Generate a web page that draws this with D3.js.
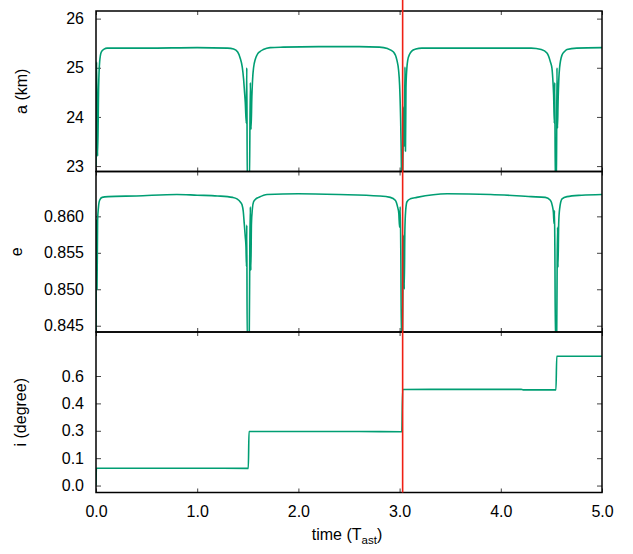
<!DOCTYPE html>
<html>
<head>
<meta charset="utf-8">
<script src="https://cdn.jsdelivr.net/npm/d3@7"></script>
<style>
  body { margin: 0; background: #fff; }
  svg { display: block; font-family: "Liberation Sans", Arial, sans-serif; }
</style>
</head>
<body>
<script>
// semi-major axis a (km) vs time
var aSeries = [
  [0.000,23.0],[0.006,25.12],[0.016,23.2],[0.026,24.6],[0.036,25.12],[0.052,25.32],[0.08,25.38],[0.11,25.40],[0.5,25.40],[1.0,25.41],[1.30,25.40],
  [1.36,25.38],[1.40,25.32],[1.426,25.19],[1.445,25.02],[1.458,24.78],[1.468,24.5],[1.475,24.3],[1.485,23.87],[1.490,25.00],[1.495,22.6],[1.516,22.6],[1.525,24.70],[1.532,23.75],[1.540,24.4],[1.550,24.85],[1.557,25.00],[1.575,25.18],[1.591,25.26],[1.62,25.33],[1.653,25.37],[1.72,25.41],[1.85,25.42],[2.2,25.43],[2.6,25.43],[2.80,25.42],
  [2.88,25.39],[2.94,25.32],[2.974,25.15],[2.99,24.95],[3.000,24.65],[3.010,23.97],[3.016,23.3],[3.020,22.6],[3.028,22.6],[3.034,23.3],[3.040,24.2],[3.046,23.4],[3.053,25.02],[3.058,23.3],[3.063,24.6],[3.072,25.0],[3.08,25.15],[3.10,25.28],[3.12,25.34],[3.16,25.38],[3.22,25.40],[3.6,25.40],[4.0,25.40],[4.30,25.40],
  [4.40,25.37],[4.456,25.30],[4.49,25.12],[4.506,24.98],[4.516,24.7],[4.522,24.45],[4.529,23.87],[4.533,24.70],[4.539,22.6],[4.550,22.6],[4.555,25.00],[4.560,23.77],[4.566,24.3],[4.574,24.8],[4.581,25.0],[4.605,25.26],[4.63,25.33],[4.654,25.37],[4.75,25.40],[5.0,25.41]
];

// eccentricity e vs time
var eSeries = [
  [0.000,0.8440],[0.004,0.8596],[0.010,0.8500],[0.016,0.8595],[0.024,0.8612],[0.036,0.8622],[0.06,0.8626],[0.12,0.8627],[0.4,0.8628],[0.8,0.8630],[1.0,0.8629],[1.2,0.8628],[1.35,0.8626],
  [1.393,0.8624],[1.43,0.8619],[1.443,0.8616],[1.455,0.8607],[1.465,0.8590],[1.475,0.8572],[1.482,0.8558],[1.487,0.8531],[1.490,0.8588],[1.494,0.8430],[1.514,0.8430],[1.520,0.8560],[1.525,0.8613],[1.530,0.8526],[1.536,0.8590],[1.545,0.8610],[1.557,0.8620],[1.58,0.8624],[1.607,0.8626],[1.69,0.8630],[2.0,0.8631],[2.4,0.8630],[2.8,0.8628],
  [2.908,0.8626],[2.957,0.8622],[2.98,0.8613],[2.992,0.8604],[3.000,0.8585],[3.006,0.8613],[3.012,0.8550],[3.018,0.8430],[3.028,0.8430],[3.034,0.8520],[3.040,0.8574],[3.046,0.8500],[3.052,0.8580],[3.060,0.8608],[3.073,0.8620],[3.106,0.8624],[3.17,0.8626],[3.47,0.8631],[3.9,0.8630],[4.3,0.8627],
  [4.44,0.8626],[4.49,0.8622],[4.51,0.8614],[4.520,0.8605],[4.526,0.8590],[4.530,0.8608],[4.534,0.8560],[4.540,0.8430],[4.552,0.8430],[4.557,0.8540],[4.561,0.8585],[4.565,0.8530],[4.572,0.8590],[4.581,0.8610],[4.605,0.8624],[4.654,0.8627],[4.8,0.8629],[5.0,0.8630]
];

// inclination i (degree) vs time
var iSeries = [
  [0,0.0],[0.004,0.095],[0.5,0.095],[1.0,0.095],[1.505,0.094],[1.512,0.296],[2.0,0.296],[2.6,0.296],[3.022,0.295],[3.030,0.526],[3.5,0.527],[4.2,0.527],[4.22,0.524],[4.545,0.524],[4.553,0.708],[5.0,0.708]
];

var markTime = 3.03;

var xTicks = [0, 1, 2, 3, 4, 5];
var xTickLabels = ["0.0", "1.0", "2.0", "3.0", "4.0", "5.0"];
var aTicks = [23, 24, 25, 26];
var aTickLabels = ["23", "24", "25", "26"];
var eTicks = [0.845, 0.850, 0.855, 0.860];
var eTickLabels = ["0.845", "0.850", "0.855", "0.860"];
var iTicks = [0, 0.15, 0.3, 0.45, 0.6];
var iTickLabels = ["0.0", "0.1", "0.3", "0.4", "0.6"];

var width = 633,
    height = 554,
    left = 96,
    right = 602;

var green = "#009e73",
    red = "#ef1f14";

var svg = d3.select("body").append("svg")
    .attr("width", width)
    .attr("height", height);

var x = d3.scaleLinear().domain([0, 5]).range([left, right]);

var panels = [
  {data: aSeries, top: 11, bottom: 171.5, domain: [22.89, 26.155], ticks: aTicks, labels: aTickLabels, title: "a (km)", tx: 27},
  {data: eSeries, top: 171.5, bottom: 332, domain: [0.84414, 0.86615], ticks: eTicks, labels: eTickLabels, title: "e", tx: 22},
  {data: iSeries, top: 332, bottom: 492.5, domain: [-0.038, 0.841], ticks: iTicks, labels: iTickLabels, title: "i (degree)", tx: 26}
];

function styleAxis(g) {
  g.attr("font-family", null).attr("font-size", null);
  g.select(".domain").remove();
  g.selectAll(".tick line").attr("stroke", "#444").attr("stroke-width", 1);
  g.selectAll(".tick text").attr("fill", "#000").style("font-size", "16px");
}

panels.forEach(function(p, k) {
  var y = d3.scaleLinear().domain(p.domain).range([p.bottom, p.top]);

  svg.append("clipPath").attr("id", "clip" + k)
    .append("rect")
      .attr("x", left).attr("y", p.top)
      .attr("width", right - left).attr("height", p.bottom - p.top);

  // ticks on all four sides, pointing inward
  svg.append("g")
      .attr("transform", "translate(" + left + ",0)")
      .call(d3.axisLeft(y).tickValues(p.ticks).tickSize(-5).tickPadding(12)
        .tickFormat(function(d, i) { return p.labels[i]; }))
      .call(styleAxis);
  svg.append("g")
      .attr("transform", "translate(" + right + ",0)")
      .call(d3.axisRight(y).tickValues(p.ticks).tickSize(-5).tickFormat(""))
      .call(styleAxis);
  svg.append("g")
      .attr("transform", "translate(0," + p.top + ")")
      .call(d3.axisTop(x).tickValues(xTicks).tickSize(-4).tickFormat(""))
      .call(styleAxis);
  svg.append("g")
      .attr("transform", "translate(0," + p.bottom + ")")
      .call(d3.axisBottom(x).tickValues(xTicks).tickSize(-4).tickPadding(13)
        .tickFormat(function(d, i) { return k == 2 ? xTickLabels[i] : ""; }))
      .call(styleAxis);

  var line = d3.line()
      .x(function(d) { return x(d[0]); })
      .y(function(d) { return y(d[1]); })
      .curve(d3.curveMonotoneX);

  svg.append("path")
      .datum(p.data)
      .attr("clip-path", "url(#clip" + k + ")")
      .attr("fill", "none")
      .attr("stroke", green)
      .attr("stroke-width", 1.6)
      .attr("stroke-linejoin", "round")
      .attr("d", line);

  svg.append("text")
      .attr("transform", "translate(" + p.tx + "," + (p.top + p.bottom) / 2 + ") rotate(-90)")
      .attr("text-anchor", "middle")
      .style("font-size", "16px")
      .text(p.title);
});

// frames
panels.forEach(function(p) {
  svg.append("rect")
      .attr("x", left).attr("y", p.top)
      .attr("width", right - left).attr("height", p.bottom - p.top)
      .attr("fill", "none")
      .attr("stroke", "#000")
      .attr("stroke-width", 1.5);
});

// marker line
svg.append("line")
    .attr("x1", x(markTime)).attr("x2", x(markTime))
    .attr("y1", 0).attr("y2", panels[2].bottom)
    .attr("stroke", red)
    .attr("stroke-width", 1.6);

var xl = svg.append("text")
    .attr("x", 347)
    .attr("y", 540)
    .attr("text-anchor", "middle")
    .style("font-size", "16px");
xl.append("tspan").text("time (T");
xl.append("tspan").attr("dy", 4).style("font-size", "11.5px").text("ast");
xl.append("tspan").attr("dy", -4).text(")");
</script>
</body>
</html>
